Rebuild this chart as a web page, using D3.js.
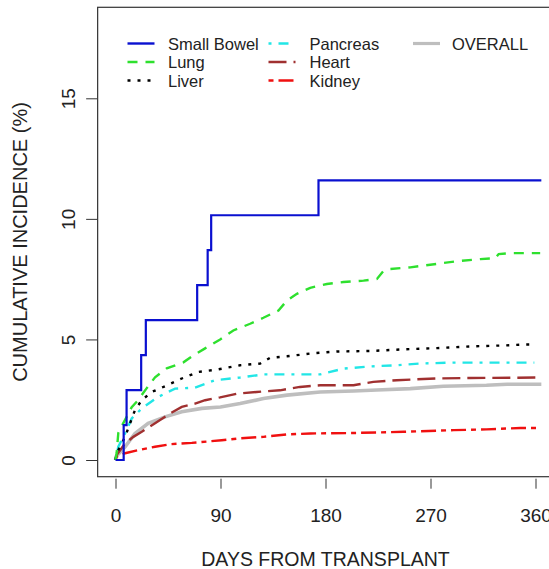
<!DOCTYPE html>
<html>
<head>
	<title>Cumulative incidence by organ</title>
	<script src="https://d3js.org/d3.v7.min.js"></script>
	<style>
		body { margin: 0; background: white; }
		text { font-family: "Liberation Sans", Arial, sans-serif; fill: #222; }
		.series { fill: none; }
	</style>
</head>

<body>
<svg width="549" height="569"></svg>

<script type="text/javascript">
var width = 549, height = 569;

// tick labels
var xTicks = [0, 90, 180, 270, 360];
var yTicks = [0, 5, 10, 15];

// legend order (R fills columns first)
var organs = ["Small Bowel", "Lung", "Liver", "Pancreas", "Heart", "Kidney", "OVERALL"];

// [day, cumulative incidence %]
var smallBowel = [[0, 0], [7, 1.45], [9.5, 2.9], [22, 4.35], [26, 5.8], [70, 7.25], [79, 8.7], [82, 10.15], [174, 11.6], [365, 11.6]];
var lung = [[0, 0], [1, 0.3], [2.4, 1.12], [6.7, 1.53], [13.9, 2.19], [19.3, 2.48], [26.8, 2.98], [33.9, 3.43], [43.9, 3.8], [58.2, 4.05], [66.7, 4.34], [76.8, 4.63], [89.7, 5.0], [101, 5.37], [115.4, 5.65], [126.8, 5.9], [139.7, 6.2], [146.9, 6.61], [155.5, 6.89], [166.9, 7.14], [181.2, 7.3], [195.4, 7.38], [212.6, 7.44], [224.1, 7.51], [229.8, 7.85], [235.5, 7.92], [252.7, 7.99], [281.2, 8.17], [295.6, 8.26], [312.7, 8.33], [325.6, 8.37], [328.4, 8.54], [338.4, 8.58], [364, 8.58]];
var liver = [[0, 0], [1, 0.28], [3.9, 0.55], [8.2, 0.96], [16.7, 2.07], [22.5, 2.48], [31, 2.82], [42.5, 3.06], [56.8, 3.38], [71, 3.65], [88.2, 3.76], [106.8, 3.93], [124, 4.0], [132.6, 4.24], [146.9, 4.3], [169.7, 4.43], [189.8, 4.5], [218, 4.52], [247, 4.59], [275.6, 4.64], [304, 4.71], [332.7, 4.75], [350, 4.79], [359, 4.79]];
var pancreas = [[0, 0], [2.4, 0.55], [8.2, 1.1], [13.9, 1.72], [22.5, 2.14], [36.7, 2.62], [51, 2.96], [68.2, 3.0], [85.4, 3.31], [106.8, 3.42], [126.8, 3.55], [175.4, 3.55], [195.4, 3.79], [218.3, 3.88], [241, 3.93], [261, 4.0], [289.8, 4.04], [359, 4.04]];
var heart = [[0, 0], [1, 0.2], [8.2, 0.69], [15.3, 0.96], [22.5, 1.17], [33.9, 1.52], [46.8, 1.93], [56.8, 2.2], [68.2, 2.34], [76.8, 2.48], [89.7, 2.6], [104, 2.75], [121, 2.82], [141, 2.89], [158, 3.03], [175.4, 3.1], [204, 3.1], [221, 3.24], [241, 3.31], [275.6, 3.38], [304, 3.4], [364, 3.42]];
var kidney = [[0, 0], [1, 0.14], [8.2, 0.28], [19.6, 0.41], [33.9, 0.55], [48, 0.66], [65.4, 0.71], [91, 0.82], [106.8, 0.9], [126.8, 0.96], [147, 1.06], [167, 1.1], [204, 1.12], [247, 1.17], [290, 1.24], [318, 1.27], [347, 1.33], [364, 1.33]];
var overall = [[0, 0], [0.5, 0.14], [8.2, 0.55], [16.7, 1.1], [28, 1.52], [42.5, 1.79], [56.8, 2.0], [74, 2.14], [90, 2.2], [106.8, 2.34], [126.8, 2.55], [146.9, 2.69], [175.4, 2.82], [204, 2.86], [224, 2.9], [252.7, 2.96], [281, 3.06], [318, 3.1], [335.6, 3.14], [365, 3.14]];

var seriesData = [smallBowel, lung, liver, pancreas, heart, kidney, overall];

var styles = {
	"Small Bowel": {color: "#0a10d0", dash: null, w: 2.2, step: true},
	"Lung": {color: "#2ee02e", dash: "10,8", w: 2.4},
	"Liver": {color: "#000000", dash: "3,7", w: 2.4},
	"Pancreas": {color: "#22e6e6", dash: "3,7,10,7", w: 2.4},
	"Heart": {color: "#a03030", dash: "18,7", w: 2.4},
	"Kidney": {color: "#f01010", dash: "5,5,15,5", w: 2.4},
	"OVERALL": {color: "#bebebe", dash: null, w: 3.6}
};

var x = d3.scaleLinear().domain([0, 360]).range([115.5, 535.5]);
var y = d3.scaleLinear().domain([0, 15]).range([460, 98.3]);

var boxLeft = x(-15.3), boxTop = 7.3, boxBottom = 476.7;

var svg = d3.select('svg');

// series, overall first so the coloured lines sit on top
var drawOrder = [6, 5, 4, 3, 2, 1, 0];
drawOrder.forEach(function(i) {
	var s = styles[organs[i]];
	var line = d3.line()
		.x(function(d) { return x(d[0]); })
		.y(function(d) { return y(d[1]); })
		.curve(s.step ? d3.curveStepAfter : d3.curveLinear);
	svg.append('path')
		.attr('class', 'series')
		.attr('d', line(seriesData[i]))
		.attr('stroke', s.color)
		.attr('stroke-width', s.w)
		.attr('stroke-dasharray', s.dash);
});

// plot box
svg.append('rect')
	.attr('x', boxLeft)
	.attr('y', boxTop)
	.attr('width', 600)
	.attr('height', boxBottom - boxTop)
	.attr('fill', 'none')
	.attr('stroke', '#333')
	.attr('stroke-width', 1.2);

// x axis
var xAxis = svg.append('g')
	.attr('transform', 'translate(0,' + (boxBottom + 2) + ')')
	.call(d3.axisBottom(x).tickValues(xTicks).tickSize(10).tickPadding(20));
xAxis.select('.domain').remove();
xAxis.selectAll('line').attr('stroke', '#333');
xAxis.selectAll('text').attr('font-size', 19).attr('font-family', null).attr('fill', '#222');

// y axis, labels turned like R's las = 0
var yAxis = svg.append('g')
	.attr('transform', 'translate(' + (boxLeft - 0.5) + ',0)')
	.call(d3.axisLeft(y).tickValues(yTicks).tickSize(11));
yAxis.select('.domain').remove();
yAxis.selectAll('line').attr('stroke', '#333');
yAxis.selectAll('text')
	.attr('font-size', 19)
	.attr('font-family', null)
	.attr('fill', '#222')
	.attr('x', null)
	.attr('dy', null)
	.attr('text-anchor', 'middle')
	.attr('transform', 'translate(-22,0) rotate(-90)');

// axis titles
svg.append('text')
	.attr('x', x(180))
	.attr('y', 565.5)
	.attr('text-anchor', 'middle')
	.attr('font-size', 19.5)
	.text('DAYS FROM TRANSPLANT');

svg.append('text')
	.attr('transform', 'translate(27,' + ((boxTop + boxBottom) / 2) + ') rotate(-90)')
	.attr('text-anchor', 'middle')
	.attr('font-size', 20)
	.text('CUMULATIVE INCIDENCE (%)');

// legend, three columns
var colLineX = [127.5, 268.5, 413];
var colTextX = [168, 309.5, 452];
var rowY = [43.5, 62, 80.5];

var legend = svg.selectAll('g.legend')
	.data(organs)
	.enter()
	.append('g')
	.attr('class', 'legend')
	.attr('transform', function(d, i) {
		return 'translate(0,' + rowY[i % 3] + ')';
	});

legend.append('line')
	.attr('x1', function(d, i) { return colLineX[Math.floor(i / 3)]; })
	.attr('x2', function(d, i) { return colLineX[Math.floor(i / 3)] + 27; })
	.attr('stroke', function(d) { return styles[d].color; })
	.attr('stroke-width', function(d) { return d === 'OVERALL' ? 3.2 : 2.4; })
	.attr('stroke-dasharray', function(d) { return styles[d].dash; });

legend.append('text')
	.attr('x', function(d, i) { return colTextX[Math.floor(i / 3)]; })
	.attr('dy', 6)
	.attr('font-size', 16.5)
	.attr('fill', '#111')
	.text(function(d) { return d; });
</script>

</body>
</html>
